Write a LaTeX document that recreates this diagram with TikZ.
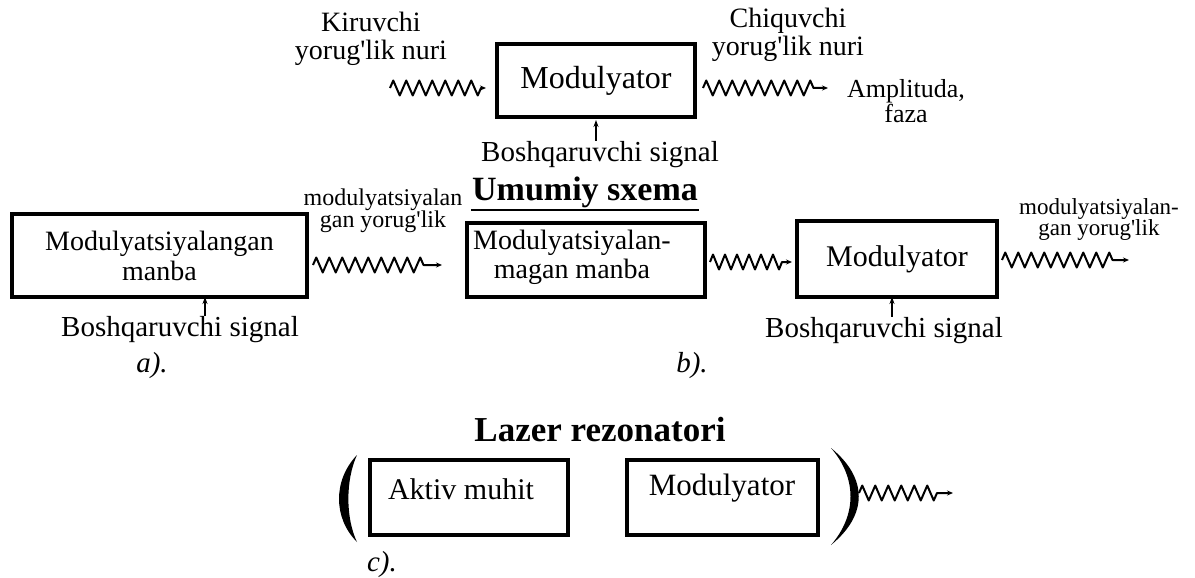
\documentclass[tikz,border=0pt]{standalone}
\usepackage{fontspec}
\setmainfont{Liberation Serif}
\usetikzlibrary{arrows.meta,decorations.pathmorphing}
\newcommand\fsz[2]{\fontsize{#1pt}{#2pt}\selectfont}
\newcommand\ap{\textquotesingle}
\tikzset{
  box/.style={draw,line width=4pt,rectangle,inner sep=0pt,align=center},
  txt/.style={inner sep=1pt,align=center},
  wave/.style={line width=2pt,line join=round,
    decorate,decoration={zigzag,amplitude=7.5pt,segment length=13pt,post=lineto,post length=14pt},
    -{Stealth[length=6pt,width=5pt]}},
  sig/.style={line width=1.6pt,-{Stealth[length=7pt,width=5pt]}},
}
\begin{document}
\begin{tikzpicture}[x=1pt,y=-1pt]
\useasboundingbox[fill=white] (0,0) rectangle (1195,578);

% ---------- top: general scheme ----------
\node[box,minimum width=198pt,minimum height=73pt,font=\fsz{32}{36}] (topbox) at (596,80.5) {Modulyator};
\node[txt,font=\fsz{28}{28}] (kir) at (371,39) {Kiruvchi\\yorug\ap lik nuri};
\node[txt,font=\fsz{28}{28}] (chiq) at (788,35) {Chiquvchi\\yorug\ap lik nuri};
\node[txt,font=\fsz{26}{25}] (amp) at (906,101) {Amplituda,\\faza};
\node[txt,font=\fsz{29}{30}] (sigtop) at (600,155) {Boshqaruvchi signal};
\coordinate (inStart) at (390,88);
\coordinate (outEnd) at (828,88);
\draw[wave] (inStart) -- (inStart -| topbox.west) [shorten >=9pt];
\draw[wave] ([xshift=6pt]topbox.east |- outEnd) -- (outEnd);
\draw[sig] ([xshift=-4pt]sigtop.north) -- ([yshift=-1pt]topbox.south);
\node[txt,font=\bfseries\fsz{34}{36}] (umumiy) at (585,192) {Umumiy sxema};
\draw[line width=2pt] ([yshift=-1pt]umumiy.south west) -- ([yshift=-1pt]umumiy.south east);

% ---------- a) ----------
\node[box,minimum width=295pt,minimum height=83pt,font=\fsz{28}{30}] (boxA) at (159.5,255.5) {Modulyatsiyalangan\\manba};
\node[txt,font=\fsz{24}{22}] (labA) at (383,211) {modulyatsiyalan\\gan yorug\ap lik};
\coordinate (waveAend) at (442,265);
\draw[wave] (boxA.east |- waveAend) ++(4,0) -- (waveAend);
\node[txt,font=\fsz{29}{30}] (sigA) at (180,330) {Boshqaruvchi signal};
\draw[sig] ([xshift=25pt]sigA.north) -- ([xshift=45.5pt,yshift=2pt]boxA.south);
\node[txt,font=\itshape\fsz{29}{30}] (capA) at (152,366) {a).};

% ---------- b) ----------
\node[box,minimum width=238pt,minimum height=74pt] (boxB1) at (586,260) {};
\node[txt,font=\fsz{28}{29}] (boxB1t) at (572,257) {Modulyatsiyalan-\\magan manba};
\node[box,minimum width=200pt,minimum height=76pt,font=\fsz{30}{32}] (boxB2) at (897,259) {Modulyator};
\draw[wave,decoration={post length=10pt,segment length=12pt}] ([xshift=3pt]boxB1.east |- 0,262) -- ([xshift=-3pt]boxB2.west |- 0,262);
\coordinate (waveBend) at (1129,260);
\draw[wave] ([xshift=3pt]boxB2.east |- waveBend) -- (waveBend);
\node[txt,font=\fsz{23}{21}] (labB) at (1099,220) {modulyatsiyalan-\\gan yorug\ap lik};
\node[txt,font=\fsz{29}{30}] (sigB) at (884,331) {Boshqaruvchi signal};
\draw[sig] ([xshift=8pt]sigB.north) -- ([xshift=-5pt,yshift=2pt]boxB2.south);
\node[txt,font=\itshape\fsz{29}{30}] (capB) at (692,366) {b).};

% ---------- c) ----------
\node[txt,font=\bfseries\fsz{35}{36}] (lazer) at (600,430) {Lazer rezonatori};
\node[box,minimum width=198pt,minimum height=75pt] (boxC1) at (469,497.5) {};
\node[txt,font=\fsz{30}{32}] (boxC1t) at (461,489) {Aktiv muhit};
\node[box,minimum width=191pt,minimum height=75pt] (boxC2) at (722.5,497.5) {};
\node[txt,font=\fsz{31}{32}] (boxC2t) at (722,488) {Modulyator};
\fill (357,455) .. controls (333,480) and (333,518) .. (357,542)
      .. controls (345.5,518) and (345.5,480) .. (357,455) -- cycle;
\fill (831,448) .. controls (868,478) and (868,515) .. (831,545)
      .. controls (857,515) and (857,478) .. (831,448) -- cycle;
\coordinate (waveCstart) at (859,493);
\coordinate (waveCend) at (953,493);
\draw[wave] (waveCstart) -- (waveCend);
\node[txt,font=\itshape\fsz{29}{30}] (capC) at (382,565) {c).};
\end{tikzpicture}
\end{document}
